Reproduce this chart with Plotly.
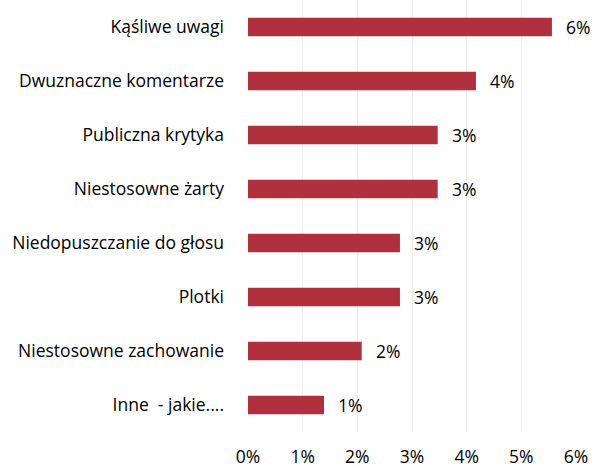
import plotly.graph_objects as go

# Survey categories (top to bottom) and their shares
categories = [
    "Kąśliwe uwagi",
    "Dwuznaczne komentarze",
    "Publiczna krytyka",
    "Niestosowne żarty",
    "Niedopuszczanie do głosu",
    "Plotki",
    "Niestosowne zachowanie",
    "Inne  - jakie....",
]
shares = [0.0556, 0.0417, 0.0347, 0.0347, 0.0278, 0.0278, 0.0208, 0.0139]
tick_values = [0, 0.01, 0.02, 0.03, 0.04, 0.05, 0.06]
tick_labels = ["0%", "1%", "2%", "3%", "4%", "5%", "6%"]

BAR_COLOR = "#B0303E"
FONT = "Open Sans"
TEXT_COLOR = "#000000"
FONT_SIZE = 17.5

fig = go.Figure(
    go.Bar(
        x=shares,
        y=categories,
        orientation="h",
        marker=dict(color=BAR_COLOR, line=dict(width=0)),
        width=0.34,
    )
)

# Value labels to the right of each bar, formatted from the bar values
for cat, val in zip(categories, shares):
    fig.add_annotation(
        x=val, y=cat, text=f"{val:.0%}", showarrow=False,
        xanchor="left", xshift=12,
        font=dict(family=FONT, size=FONT_SIZE, color=TEXT_COLOR),
    )

fig.update_layout(
    width=593, height=468,
    margin=dict(l=248, r=17, t=0, b=34),
    paper_bgcolor="white", plot_bgcolor="white",
    showlegend=False,
    font=dict(family=FONT, size=FONT_SIZE, color=TEXT_COLOR),
)
fig.update_xaxes(
    range=[0, 0.06], tickvals=tick_values, ticktext=tick_labels,
    showgrid=True, gridcolor="#f0f0f0", gridwidth=1,
    zeroline=False, showline=False, ticks="",
    ticklabelstandoff=12,
    tickfont=dict(family=FONT, size=FONT_SIZE, color=TEXT_COLOR),
)
fig.update_yaxes(
    categoryorder="array", categoryarray=categories, autorange="reversed",
    showgrid=False, zeroline=False, showline=False, ticks="",
    ticklabelstandoff=23,
    tickfont=dict(family=FONT, size=FONT_SIZE, color=TEXT_COLOR),
)

fig.write_html("out.html")
